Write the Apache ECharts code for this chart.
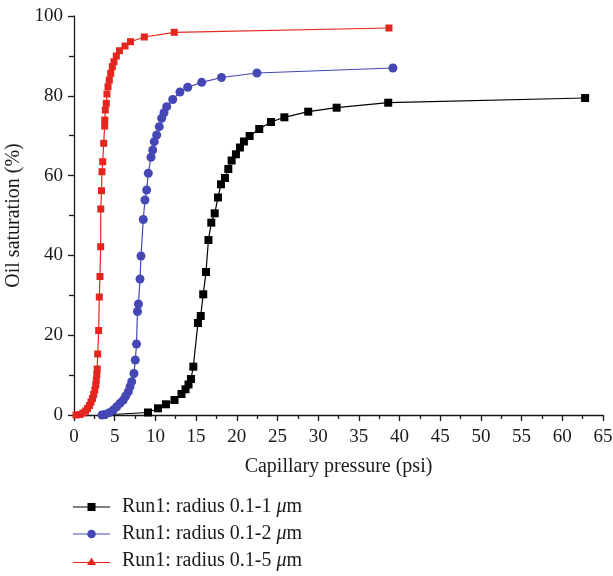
<!DOCTYPE html>
<html>
<head>
<meta charset="utf-8">
<script src="https://cdn.jsdelivr.net/npm/echarts@6/dist/echarts.min.js"></script>
<style>
html,body{margin:0;padding:0;background:#fff;}
#c{width:613px;height:576px;}
</style>
</head>
<body>
<div id="c"></div>
<script>
const seriesNames = ['Run1: radius 0.1-1 μm', 'Run1: radius 0.1-2 μm', 'Run1: radius 0.1-5 μm'];
const xTicks = [0,5,10,15,20,25,30,35,40,45,50,55,60,65];
const yTicks = [0,20,40,60,80,100];

const run1Pressure = [3.56, 9.09, 10.32, 11.30, 12.35, 13.21, 13.70, 14.07, 14.37, 14.66, 15.23, 15.57, 15.88, 16.22, 16.52, 16.87, 17.29, 17.69, 18.06, 18.55, 18.96, 19.37, 19.90, 20.39, 20.88, 21.58, 22.76, 24.20, 25.85, 28.78, 32.27, 38.61, 62.8];
const run1Sat = [0, 0.63, 1.68, 2.68, 3.76, 5.26, 6.44, 7.64, 9.02, 12.11, 23.06, 24.81, 30.25, 35.84, 43.86, 48.2, 50.55, 54.51, 57.82, 59.4, 61.65, 63.78, 65.34, 67.04, 68.55, 69.92, 71.68, 73.43, 74.61, 76.02, 77.02, 78.27, 79.45];

const run2Pressure = [3.44, 3.81, 4.34, 4.83, 5.25, 5.65, 6.06, 6.35, 6.67, 6.88, 7.09, 7.37, 7.53, 7.68, 7.80, 7.92, 8.11, 8.23, 8.51, 8.72, 8.93, 9.13, 9.46, 9.67, 9.86, 10.16, 10.48, 10.77, 11.06, 11.39, 12.13, 13.02, 13.97, 15.69, 18.12, 22.48, 39.19];
const run2Sat = [0, 0.13, 0.58, 1.25, 2.08, 2.93, 3.76, 4.76, 5.84, 7.09, 8.35, 10.4, 13.78, 17.79, 25.94, 27.82, 34.09, 39.85, 49.0, 53.88, 56.39, 60.58, 64.59, 66.42, 68.5, 70.18, 72.26, 74.36, 75.76, 77.27, 79.07, 80.95, 82.13, 83.38, 84.59, 85.71, 86.97];

const run3Pressure = [0.25, 0.74, 1.11, 1.41, 1.66, 1.90, 2.09, 2.27, 2.42, 2.56, 2.67, 2.74, 2.80, 2.85, 2.91, 3.03, 3.11, 3.19, 3.28, 3.29, 3.38, 3.44, 3.53, 3.65, 3.77, 3.78, 3.85, 3.97, 4.05, 4.18, 4.34, 4.51, 4.71, 4.91, 5.20, 5.59, 6.27, 6.94, 8.64, 12.32, 38.70];
const run3Sat = [0, 0.13, 0.5, 1.0, 1.63, 2.38, 3.26, 4.14, 5.14, 6.27, 7.52, 8.77, 10.15, 11.53, 15.29, 21.18, 29.57, 34.71, 42.18, 51.63, 56.22, 60.98, 63.48, 68.1, 72.43, 73.93, 76.44, 78.12, 80.45, 82.28, 83.96, 85.64, 87.29, 88.55, 89.97, 91.3, 92.48, 93.56, 94.74, 95.91, 96.99];

const colors = ['#000000', '#4447b4', '#e5261e'];
const FONT = '"Liberation Serif", "DejaVu Serif", serif';
const TXT = '#1a1a1a';

function pairs(xs, ys){ return xs.map((x,i)=>[x, ys[i]]); }

const legendIcons = [
  'path://M0,4 L37,4 L37,5 L0,5 Z M14.5,0.5 L22.5,0.5 L22.5,8.5 L14.5,8.5 Z M0,0 L0,0 M37,9 L37,9',
  'path://M0,4 L37,4 L37,5 L0,5 Z M22.8,4.5 A4.3,4.3 0 1 1 14.2,4.5 A4.3,4.3 0 1 1 22.8,4.5 Z M0,0 L0,0 M37,9 L37,9',
  'path://M0,5.5 L37,5.5 L37,6.5 L0,6.5 Z M18.5,1 L23,8.5 L14,8.5 Z M0,0 L0,0 M37,9 L37,9'
];

const chart = echarts.init(document.getElementById('c'), null, {renderer:'canvas'});
chart.setOption({
  animation: false,
  backgroundColor: '#fff',
  grid: {left: 74, right: 10, top: 16, bottom: 161, containLabel: false, outerBoundsMode: 'none'},
  xAxis: {
    type: 'value', min: xTicks[0], max: xTicks[xTicks.length-1], interval: 5,
    name: 'Capillary pressure (psi)', nameLocation: 'middle', nameGap: 42,
    nameTextStyle: {fontFamily: FONT, fontSize: 20, color: TXT},
    axisLine: {show: true, lineStyle: {color: TXT, width: 1.3}},
    axisTick: {show: true, inside: false, length: 6, lineStyle: {color: TXT, width: 1.3}},
    minorTick: {show: true, splitNumber: 2, length: 4, lineStyle: {color: TXT, width: 1.3}},
    axisLabel: {fontFamily: FONT, fontSize: 19, color: TXT, margin: 13},
    splitLine: {show: false}
  },
  yAxis: {
    type: 'value', min: yTicks[0], max: yTicks[yTicks.length-1], interval: 20,
    name: 'Oil saturation (%)', nameLocation: 'middle', nameGap: 50,
    nameTextStyle: {fontFamily: FONT, fontSize: 20, color: TXT},
    axisLine: {show: true, lineStyle: {color: TXT, width: 1.3}},
    axisTick: {show: true, inside: false, length: 6, lineStyle: {color: TXT, width: 1.3}},
    minorTick: {show: true, splitNumber: 2, length: 5, lineStyle: {color: TXT, width: 1.3}},
    axisLabel: {fontFamily: FONT, fontSize: 19, color: TXT, margin: 11},
    splitLine: {show: false}
  },
  legend: {
    orient: 'vertical', left: 73, top: 497, padding: 0, itemWidth: 37, itemHeight: 9, itemGap: 7,
    data: seriesNames.map((n,i)=>({name: n, icon: legendIcons[i], itemStyle: {color: colors[i]}})),
    formatter: function(name){ return name.replace('μ', '{i|μ}'); },
    textStyle: {fontFamily: FONT, fontSize: 20, color: TXT, padding: [0,0,0,7],
      rich: {i: {fontFamily: FONT, fontSize: 20, fontStyle: 'italic', color: TXT}}}
  },
  series: [
    {name: seriesNames[0], type: 'line', data: pairs(run1Pressure, run1Sat), symbol: 'rect', symbolSize: 8,
     itemStyle: {color: colors[0]}, lineStyle: {color: colors[0], width: 1.2}, z: 2},
    {name: seriesNames[1], type: 'line', data: pairs(run2Pressure, run2Sat), symbol: 'circle', symbolSize: 9,
     itemStyle: {color: colors[1]}, lineStyle: {color: colors[1], width: 1.2}, z: 3},
    {name: seriesNames[2], type: 'line', data: pairs(run3Pressure, run3Sat), symbol: 'rect', symbolSize: 7,
     itemStyle: {color: colors[2]}, lineStyle: {color: colors[2], width: 1.2}, z: 4}
  ]
});
</script>
</body>
</html>
